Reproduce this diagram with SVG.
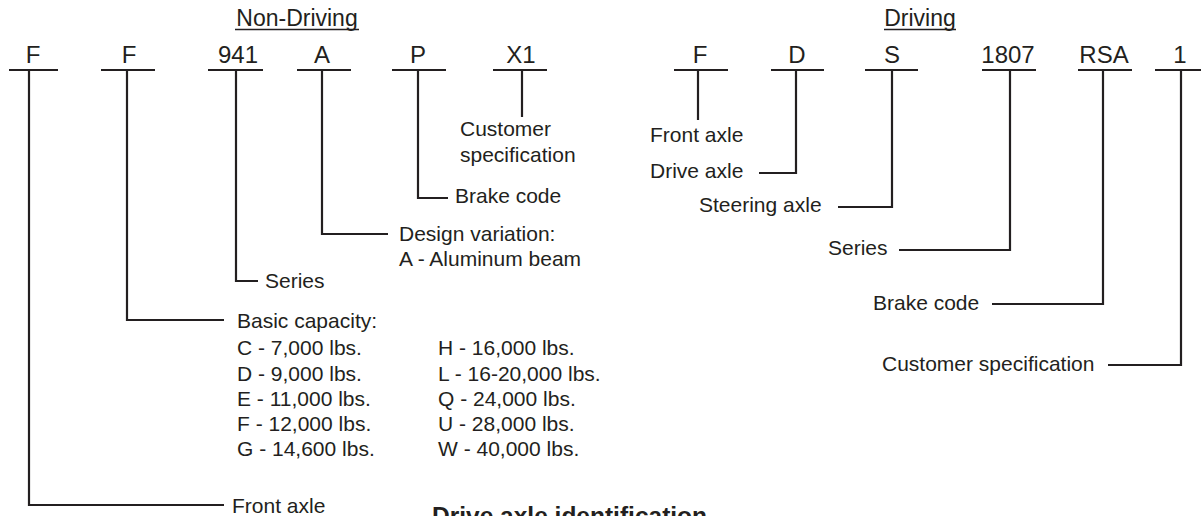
<svg xmlns="http://www.w3.org/2000/svg" width="1201" height="516" viewBox="0 0 1201 516">
<style>
text{font-family:"Liberation Sans",Arial,Helvetica,sans-serif;fill:#231f20}
.code{font-size:24px;text-anchor:middle}
.head{font-size:23px;text-anchor:middle}
.lbl{font-size:21px}
.title{font-size:24.5px;font-weight:bold}
.ln{stroke:#231f20;stroke-width:2.2;fill:none}
.ul{stroke:#231f20;stroke-width:1.4}
</style>
<rect width="1201" height="516" fill="#fff"/>
<g id="headings">
<text class="head" x="297" y="26">Non-Driving</text>
<line class="ul" x1="235" y1="29.5" x2="359" y2="29.5"/>
<text class="head" x="920" y="26">Driving</text>
<line class="ul" x1="884" y1="29.5" x2="956" y2="29.5"/>
</g>
<g id="codes">
<g id="c-F1"><text class="code" x="33" y="63">F</text><line class="ln" x1="9" y1="70" x2="58" y2="70"/></g>
<g id="c-F2"><text class="code" x="129" y="63">F</text><line class="ln" x1="101" y1="70" x2="155" y2="70"/></g>
<g id="c-941"><text class="code" x="238" y="63">941</text><line class="ln" x1="208" y1="70" x2="263" y2="70"/></g>
<g id="c-A"><text class="code" x="322" y="63">A</text><line class="ln" x1="297" y1="70" x2="351" y2="70"/></g>
<g id="c-P"><text class="code" x="418" y="63">P</text><line class="ln" x1="392" y1="70" x2="446" y2="70"/></g>
<g id="c-X1"><text class="code" x="521" y="63">X1</text><line class="ln" x1="493" y1="70" x2="547" y2="70"/></g>
<g id="c-F"><text class="code" x="700" y="63">F</text><line class="ln" x1="674" y1="70" x2="728" y2="70"/></g>
<g id="c-D"><text class="code" x="797" y="63">D</text><line class="ln" x1="771" y1="70" x2="824" y2="70"/></g>
<g id="c-S"><text class="code" x="892" y="63">S</text><line class="ln" x1="865" y1="70" x2="918" y2="70"/></g>
<g id="c-1807"><text class="code" x="1008" y="63">1807</text><line class="ln" x1="982" y1="70" x2="1036" y2="70"/></g>
<g id="c-RSA"><text class="code" x="1104" y="63">RSA</text><line class="ln" x1="1078" y1="70" x2="1132" y2="70"/></g>
<g id="c-1"><text class="code" x="1180" y="63">1</text><line class="ln" x1="1155" y1="70" x2="1210" y2="70"/></g>
</g>
<g id="connectors">
<polyline class="ln" points="29,70 29,505 224,505"/>
<polyline class="ln" points="127,70 127,320 224,320"/>
<polyline class="ln" points="236,70 236,281 258,281"/>
<polyline class="ln" points="322,70 322,234 388,234"/>
<polyline class="ln" points="418,70 418,198 448,198"/>
<polyline class="ln" points="522,70 522,117"/>
<polyline class="ln" points="698,70 698,120"/>
<polyline class="ln" points="796,70 796,173 759,173"/>
<polyline class="ln" points="892,70 892,207 838,207"/>
<polyline class="ln" points="1010,70 1010,250 899,250"/>
<polyline class="ln" points="1103,70 1103,304 992,304"/>
<polyline class="ln" points="1181,70 1181,365 1108,365"/>
</g>
<g id="nd-labels">
<g id="l-front-nd"><text class="lbl" x="232" y="513">Front axle</text></g>
<g id="l-capacity">
<text class="lbl" x="237" y="328">Basic capacity:</text>
<text class="lbl" x="237" y="355">C - 7,000 lbs.</text>
<text class="lbl" x="237" y="380.5">D - 9,000 lbs.</text>
<text class="lbl" x="237" y="406">E - 11,000 lbs.</text>
<text class="lbl" x="237" y="431">F - 12,000 lbs.</text>
<text class="lbl" x="237" y="456">G - 14,600 lbs.</text>
<text class="lbl" x="438" y="355">H - 16,000 lbs.</text>
<text class="lbl" x="438" y="380.5">L - 16-20,000 lbs.</text>
<text class="lbl" x="438" y="406">Q - 24,000 lbs.</text>
<text class="lbl" x="438" y="431">U - 28,000 lbs.</text>
<text class="lbl" x="438" y="456">W - 40,000 lbs.</text>
</g>
<g id="l-series-nd"><text class="lbl" x="265" y="288">Series</text></g>
<g id="l-design"><text class="lbl" x="399" y="240.5">Design variation:</text><text class="lbl" x="399" y="265.5">A - Aluminum beam</text></g>
<g id="l-brake-nd"><text class="lbl" x="455" y="203">Brake code</text></g>
<g id="l-cust-nd"><text class="lbl" x="460" y="136">Customer</text><text class="lbl" x="460" y="161.5">specification</text></g>
</g>
<g id="d-labels">
<g id="l-front-d"><text class="lbl" x="650" y="142">Front axle</text></g>
<g id="l-drive"><text class="lbl" x="650" y="178">Drive axle</text></g>
<g id="l-steer"><text class="lbl" x="699" y="212">Steering axle</text></g>
<g id="l-series-d"><text class="lbl" x="828" y="255">Series</text></g>
<g id="l-brake-d"><text class="lbl" x="873" y="309.5">Brake code</text></g>
<g id="l-cust-d"><text class="lbl" x="882" y="371">Customer specification</text></g>
</g>
<g id="title"><text class="title" x="432" y="524">Drive axle identification</text></g>
</svg>
